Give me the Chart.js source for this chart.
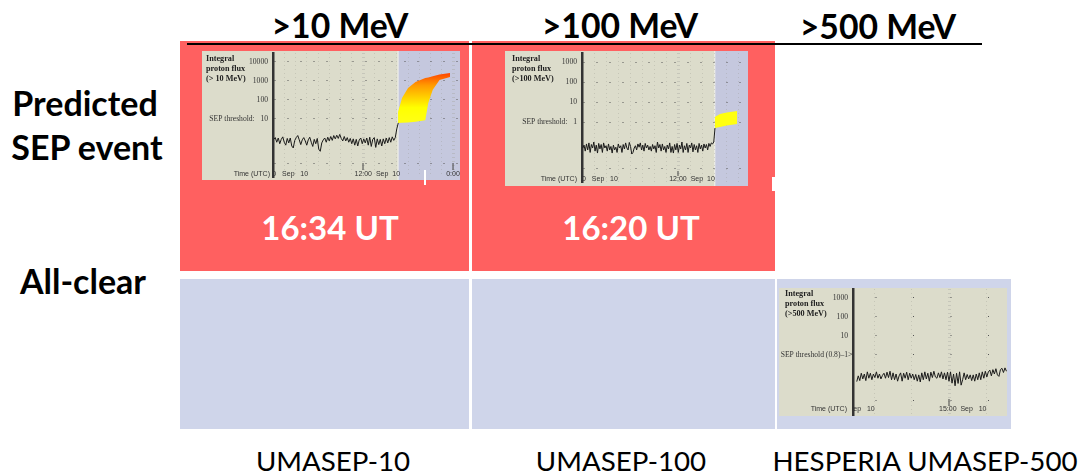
<!DOCTYPE html>
<html>
<head>
<meta charset="utf-8">
<script src="https://cdn.jsdelivr.net/npm/chart.js@4"></script>
<style>
html,body{margin:0;padding:0;background:#fff;width:1078px;height:475px;overflow:hidden;font-family:Lato,sans-serif;color:#000}
.box,.t,.panel,.mini{position:absolute}
.t{white-space:nowrap;transform:translate(-50%,-50%);line-height:1}
.hd{font-weight:700;font-size:33.7px}
.side{font-weight:700;font-size:34px}
.time{font-weight:700;font-size:33px;color:#fff}
.model{font-size:27.7px}
.panel{background:#dcdccb;filter:blur(.35px)}
.panel canvas{position:absolute;left:0;top:0}
.mini{font-family:"Liberation Serif",serif;color:#222;white-space:nowrap}
.ttl{font-weight:700;font-size:8.2px;line-height:10px}
.utc{font-family:"Liberation Sans",sans-serif;font-size:7px;color:#333}
</style>
</head>
<body>
<div class="box" style="left:180px;top:41px;width:289px;height:230px;background:#ff6060"></div>
<div class="box" style="left:472px;top:41px;width:303px;height:230px;background:#ff6060"></div>
<div class="box" style="left:180px;top:279px;width:289px;height:150px;background:#cfd5ea"></div>
<div class="box" style="left:472px;top:279px;width:303px;height:150px;background:#cfd5ea"></div>
<div class="box" style="left:777px;top:279px;width:234px;height:150px;background:#cfd5ea"></div>
<div class="box" style="left:187px;top:43px;width:795px;height:2px;background:#000"></div>

<div class="t hd" style="left:340px;top:26px">&gt;10 MeV</div>
<div class="t hd" style="left:620px;top:26px">&gt;100 MeV</div>
<div class="t hd" style="left:878px;top:27px">&gt;500 MeV</div>
<div class="t side" style="left:85px;top:103px">Predicted</div>
<div class="t side" style="left:87px;top:147px">SEP event</div>
<div class="t side" style="left:83px;top:281px">All-clear</div>
<div class="t time" style="left:330px;top:227px">16:34 UT</div>
<div class="t time" style="left:631px;top:227px">16:20 UT</div>
<div class="t model" style="left:333px;top:461px">UMASEP-10</div>
<div class="t model" style="left:621px;top:461px">UMASEP-100</div>
<div class="t model" style="left:925px;top:461px">HESPERIA UMASEP-500</div>

<div class="panel" style="left:202px;top:51px;width:258px;height:129px">
  <canvas id="chart10" width="258" height="129"></canvas>
  <div class="mini ttl" style="left:4px;top:3px">Integral<br>proton flux<br>(&gt; 10 MeV)</div>
  <div class="mini utc" style="right:190px;top:119px">Time (UTC)</div>
</div>
<div class="panel" style="left:505px;top:51px;width:243px;height:135px">
  <canvas id="chart100" width="243" height="135"></canvas>
  <div class="mini ttl" style="left:7px;top:3px">Integral<br>proton flux<br>(&gt;100 MeV)</div>
  <div class="mini utc" style="right:171px;top:124px">Time (UTC)</div>
</div>
<div class="panel" style="left:779px;top:288px;width:228px;height:128px">
  <canvas id="chart500" width="228" height="128"></canvas>
  <div class="mini ttl" style="left:6px;top:1px">Integral<br>proton flux<br>(&gt;500 MeV)</div>
  <div class="mini utc" style="right:160px;top:117px">Time (UTC)</div>
  <div class="mini" style="left:69px;top:62px;font-size:8px">&gt;</div>
</div>
<div class="box" style="left:424px;top:170px;width:2px;height:15px;background:#fff"></div>
<div class="box" style="left:772px;top:177px;width:3px;height:14px;background:#fff"></div>

<script>
// baseline flux
const flux10 = [0.85,1.05,0.6,1.0,0.5,0.85,1.15,0.6,0.42,0.95,0.55,1.0,0.38,0.3,0.75,1.05,1.35,0.8,0.45,0.8,1.05,0.7,0.42,0.8,1.1,0.6,0.36,0.85,0.5,0.95,0.26,0.2,0.55,0.8,1.0,0.6,1.1,0.7,1.2,0.75,1.35,0.9,1.4,0.95,1.55,0.95,0.7,1.2,0.7,1.05,0.6,0.95,0.5,0.9,0.42,0.85,0.38,0.8,1.0,0.5,0.9,0.55,1.0,0.42,1.1,0.36,0.85,1.05,0.32,0.9,0.45,0.85,0.38,0.9,0.5,1.0,0.55,1.05,0.6,1.15,0.75,1.05,3.0,6.2]
const hours10Start = 0.1, hours10Step = 0.2
const flux100 = [0.05,0.07,0.035,0.08,0.04,0.09,0.03,0.075,0.05,0.1,0.035,0.07,0.028,0.085,0.045,0.075,0.03,0.09,0.05,0.065,0.035,0.08,0.04,0.06,0.028,0.07,0.04,0.055,0.03,0.08,0.05,0.065,0.03,0.075,0.045,0.09,0.05,0.04,0.095,0.06,0.025,0.03,0.05,0.065,0.04,0.08,0.055,0.09,0.04,0.07,0.035,0.085,0.05,0.07,0.04,0.06,0.035,0.075,0.045,0.065,0.03,0.1,0.05,0.075,0.035,0.08,0.04,0.06,0.03,0.07,0.045,0.09,0.03,0.06,0.028,0.075,0.04,0.085,0.03,0.07,0.045,0.1,0.03,0.065,0.04,0.085,0.03,0.07,0.05,0.09,0.032,0.075,0.04,0.065,0.03,0.085,0.045,0.07,0.035,0.08,0.05,0.075,0.04,0.085,0.06,0.09,0.08,0.1,0.5]
const hours100Start = 0.1, hours100Step = 0.153
const flux500 = [0.04,0.08,0.045,0.11,0.055,0.1,0.045,0.13,0.06,0.11,0.05,0.1,0.065,0.13,0.06,0.1,0.055,0.085,0.11,0.06,0.125,0.065,0.14,0.05,0.115,0.05,0.1,0.042,0.08,0.115,0.042,0.11,0.06,0.125,0.05,0.11,0.06,0.1,0.05,0.095,0.042,0.09,0.038,0.115,0.05,0.13,0.055,0.11,0.042,0.125,0.065,0.14,0.07,0.06,0.115,0.065,0.13,0.055,0.115,0.05,0.125,0.042,0.13,0.033,0.1,0.024,0.11,0.032,0.13,0.026,0.05,0.115,0.05,0.095,0.055,0.09,0.045,0.09,0.042,0.1,0.05,0.115,0.05,0.13,0.06,0.14,0.07,0.13,0.16,0.08,0.17,0.1,0.19,0.09,0.075,0.17,0.2,0.12,0.21,0.14]
const hours500Start = 7.62, hours500Step = 0.121

// predicted flux bands
const fanHours10 = [16.67,17.2,18,19,20.3,20.7,21.3,22.2,23.6]
const fanUpper10 = [23,128,430,890,1440,1540,1750,2200,2650]
const fanLower10 = [6.2,6.3,6.6,7.2,8.5,70,340,1120,1620]
const fanHours100 = [16.6,17.25,18.1,19.4]
const fanUpper100 = [1.78,2.5,3,3.5]
const fanLower100 = [0.5,0.56,0.67,0.8]
const gradFlux10 = [2650,600,40,10]
const gradColor10 = ['#ff4200','#ff9a00','#ffff00','#ffff10']

// ticks
const yTicks10 = [10000,1000,100,10,0.048]
const yLabels10 = ['10000','1000','100','SEP threshold:   10','']
const yTicks100 = [1000,100,10,1,0.0045]
const yLabels100 = ['1000','100','10','SEP threshold:   1','']
const yTicks500 = [1000,100,10,1,0.0043]
const yLabels500 = ['1000','100','10','SEP threshold (0.8)–1','']
const xTicks10 = [2.3,13.9,24], xLabels10 = ['0   Sep   10','12:00  Sep  10','0:00']
const xTicks100 = [2.25,13.75], xLabels100 = ['0   Sep   10','12:00  Sep  10']
const xTicks500 = [8.2,16.1], xLabels500 = ['ep   10','15:00  Sep   10']
const xGrid10 = [1.5,3,4.5,6,7.5,9,10.5,12,13.5,15,16.5,18,19.5,21,22.5,24]
const xGrid100 = [1.5,3,4.5,6,7.5,9,10.5,12,13.5,15,16.5,18,19.5]
const xGrid500 = [9,12,15,18]

const bandPlugin = {
    id: 'band',
    beforeDraw(chart, args, o) {
        if (o.now == null) return
        const ctx = chart.ctx, x = chart.scales.x.getPixelForValue(o.now)
        ctx.fillStyle = '#c5c8de'
        ctx.fillRect(x, 0, chart.width - x, chart.height)
        ctx.fillStyle = '#f4f4ec'
        ctx.fillRect(x - 0.5, 0, 1, chart.height)
    },
    afterDraw(chart, args, o) {
        const ctx = chart.ctx, s = chart.scales.x
        ctx.fillStyle = '#444'
        o.marks.forEach(h => ctx.fillRect(s.getPixelForValue(h) - 0.5, o.markTop, 1, o.markLen))
    }
}

function points(start, step, vals) {
    return vals.map((v, i) => ({x: start + i * step, y: v}))
}
function pairs(xs, ys) {
    return xs.map((x, i) => ({x: x, y: ys[i]}))
}

function makeChart(id, c) {
    const datasets = [{
        data: c.trace, borderColor: '#1a1a1a', borderWidth: 1, pointRadius: 0, tension: 0, order: 1
    }]
    if (c.fanHours) {
        datasets.push({
            data: pairs(c.fanHours, c.fanUpper), borderWidth: 0, pointRadius: 0, fill: '+1', order: 2,
            backgroundColor(ctx) {
                const ch = ctx.chart
                if (!ch.chartArea || !c.gradFlux) return '#ffff10'
                const y = ch.scales.y
                const y0 = y.getPixelForValue(c.gradFlux[0]), y1 = y.getPixelForValue(c.gradFlux[c.gradFlux.length - 1])
                const g = ch.ctx.createLinearGradient(0, y0, 0, y1)
                c.gradFlux.forEach((f, i) => g.addColorStop((y.getPixelForValue(f) - y0) / (y1 - y0), c.gradColor[i]))
                return g
            }
        })
        datasets.push({data: pairs(c.fanHours, c.fanLower), borderWidth: 0, pointRadius: 0, fill: false, order: 2})
    }
    return new Chart(document.getElementById(id), {
        type: 'line',
        data: {datasets: datasets},
        plugins: [bandPlugin],
        options: {
            responsive: false,
            animation: false,
            events: [],
            layout: {autoPadding: false, padding: {top: c.padTop, bottom: c.padBottom, left: 0, right: 0}},
            plugins: {
                legend: {display: false},
                tooltip: {enabled: false},
                band: {now: c.now, marks: c.marks, markTop: c.markTop, markLen: c.markLen}
            },
            scales: {
                x: {
                    type: 'linear', min: c.xMin, max: c.xMax, position: 'bottom',
                    afterFit: s => { s.height = 0; s.paddingLeft = 0; s.paddingRight = 0 },
                    afterBuildTicks: s => { s.ticks = c.xGrid.map(v => ({value: v})) },
                    ticks: {display: false},
                    border: {display: false, dash: [1, 3]},
                    grid: {
                        drawTicks: false, tickLength: 0,
                        color: ctx => c.xStripes.includes(ctx.tick && ctx.tick.value) ? 'rgba(165,165,160,.4)' : 'rgba(150,150,140,.3)',
                        lineWidth: ctx => c.xStripes.includes(ctx.tick && ctx.tick.value) ? 3 : 1
                    }
                },
                xl: {
                    type: 'linear', axis: 'x', min: c.xMin, max: c.xMax, position: 'bottom',
                    afterFit: s => { s.height = 0; s.paddingLeft = 0; s.paddingRight = 0 },
                    afterBuildTicks: s => { s.ticks = c.xTicks.map(v => ({value: v})) },
                    border: {display: false},
                    grid: {display: false, drawTicks: false, tickLength: 0},
                    ticks: {
                        autoSkip: false, maxRotation: 0, mirror: true, padding: c.xLabelPad, color: '#333',
                        font: {family: 'Liberation Sans', size: 7},
                        callback: v => c.xLabels[c.xTicks.indexOf(v)]
                    }
                },
                y: {
                    type: 'logarithmic', min: c.yMin, max: c.yMax,
                    afterFit: s => { s.width = c.axisWidth; s.paddingTop = 0; s.paddingBottom = 0 },
                    afterBuildTicks: s => { s.ticks = c.yTicks.map(v => ({value: v})) },
                    border: {color: '#333', width: 2.5, dash: c.yDash, dashOffset: c.yDashOffset},
                    grid: {color: '#555', drawTicks: false, tickLength: 0},
                    ticks: {
                        autoSkip: false, padding: 5, color: '#333',
                        font: {family: 'Liberation Serif', size: 7.6},
                        callback: v => c.yLabels[c.yTicks.indexOf(v)]
                    }
                }
            }
        }
    })
}

makeChart('chart10', {
    trace: points(hours10Start, hours10Step, flux10),
    fanHours: fanHours10, fanUpper: fanUpper10, fanLower: fanLower10,
    gradFlux: gradFlux10, gradColor: gradColor10,
    now: 16.67, xMin: 0, xMax: 24.93,
    xGrid: xGrid10, xStripes: [12,24],
    xTicks: xTicks10, xLabels: xLabels10, xLabelPad: -1,
    marks: [12,24], markTop: 112, markLen: 7,
    yMin: 0.0089, yMax: 29500, yTicks: yTicks10, yLabels: yLabels10,
    yDash: [1,12], yDashOffset: 0,
    axisWidth: 71, padTop: 2, padBottom: 3
})
makeChart('chart100', {
    trace: points(hours100Start, hours100Step, flux100),
    fanHours: fanHours100, fanUpper: fanUpper100, fanLower: fanLower100,
    now: 16.6, xMin: 0, xMax: 20.75,
    xGrid: xGrid100, xStripes: [12],
    xTicks: xTicks100, xLabels: xLabels100, xLabelPad: -1,
    marks: [12], markTop: 120, markLen: 5,
    yMin: 0.001, yMax: 2820, yTicks: yTicks100, yLabels: yLabels100,
    yDash: [1,12], yDashOffset: 0,
    axisWidth: 77, padTop: 2, padBottom: 4
})
makeChart('chart500', {
    trace: points(hours500Start, hours500Step, flux500),
    xMin: 7.32, xMax: 19.64,
    xGrid: xGrid500, xStripes: [15],
    xTicks: xTicks500, xLabels: xLabels500, xLabelPad: 2,
    marks: [15], markTop: 111, markLen: 7,
    yMin: 0.0007, yMax: 2950, yTicks: yTicks500, yLabels: yLabels500,
    yDash: [1,36.5], yDashOffset: 16.5,
    axisWidth: 74, padTop: 1, padBottom: 1
})
</script>
</body>
</html>
